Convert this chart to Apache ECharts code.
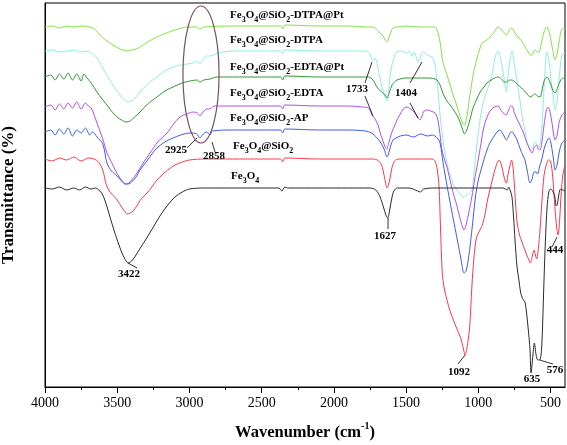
<!DOCTYPE html>
<html><head><meta charset="utf-8">
<script src="https://cdn.jsdelivr.net/npm/echarts@6/dist/echarts.min.js"></script>
<style>html,body{margin:0;padding:0;background:#fff}#c{width:567px;height:445px}</style>
</head><body><div id="c"></div>
<script>
// ---- data: [wavenumber (cm-1), transmittance (arb. units, offset stacked)] ----
const tickLabels = [4000, 3500, 3000, 2500, 2000, 1500, 1000, 500];
const minorTickValues = [3750, 3250, 2750, 2250, 1750, 1250, 750];

const fe3o4 = [[4000,199],[3950,198],[3900,200],[3850,197],[3800,199],[3760,197],[3720,200],[3680,198],[3650,199],[3620,196],[3600,192],[3570,180],[3550,170],[3525,158],[3500,147],[3470,135],[3450,129],[3425,124],[3400,126],[3370,132],[3340,139],[3300,148],[3250,160],[3200,172],[3150,182],[3100,190],[3050,195],[3000,198],[2900,199],[2700,199],[2500,199],[2380,199],[2360,196],[2340,200],[2320,199],[2100,199],[1900,199],[1750,199],[1710,197],[1680,190],[1655,179],[1640,172],[1627,169],[1615,176],[1600,188],[1585,196],[1560,199],[1480,199],[1420,196],[1400,195],[1380,198],[1300,199],[1100,199],[900,199],[830,199],[800,197],[790,200],[778,196],[767,190],[756,170],[746,147],[732,120],[720,108],[708,95],[698,90],[688,87],[677,85],[666,74],[656,60],[648,48],[642,37],[635,14],[622,32],[612,44],[600,32],[588,27],[576,27],[566,32],[558,50],[548,95],[536,145],[524,180],[512,195],[500,198],[485,196],[470,190],[460,181],[452,183],[442,193],[430,198],[415,197],[400,196]];

const fe3o4SiO2 = [[4000,228],[3950,226],[3900,229],[3850,227],[3800,230],[3750,226],[3700,229],[3660,228],[3630,225],[3600,217],[3575,202],[3550,195],[3500,187],[3470,180],[3450,176],[3430,173],[3410,174],[3390,176],[3360,182],[3340,187],[3300,193],[3260,200],[3225,207],[3150,217],[3100,222],[3050,225],[3000,227],[2900,228],[2700,228],[2500,228],[2370,228],[2355,225],[2340,229],[2100,228],[1900,228],[1750,228],[1700,227],[1670,222],[1650,210],[1632,199],[1615,206],[1600,218],[1580,226],[1550,228],[1400,228],[1320,228],[1300,226],[1285,218],[1272,200],[1262,160],[1250,115],[1235,98],[1196,76],[1170,66],[1148,58],[1120,48],[1100,36],[1092,32],[1080,38],[1060,60],[1045,100],[1030,130],[1015,148],[1000,154],[985,158],[970,163],[955,172],[935,188],[915,200],[895,212],[875,222],[857,227],[840,222],[825,212],[812,205],[805,204],[795,212],[780,222],[770,227],[760,220],[745,190],[732,165],[715,152],[698,145],[680,138],[665,132],[650,127],[640,124],[628,130],[614,137],[605,132],[596,128],[585,138],[573,157],[560,185],[545,212],[530,222],[515,227],[500,226],[485,210],[470,180],[458,160],[448,152],[438,165],[428,190],[415,212],[400,222]];

const apSeries = [[4000,255],[3960,257],[3930,252],[3900,258],[3870,253],[3840,259],[3810,251],[3780,257],[3750,254],[3720,259],[3690,252],[3670,255],[3640,250],[3600,243],[3571,224],[3540,216],[3500,211],[3470,206],[3446,203],[3425,203],[3400,205],[3370,210],[3342,217],[3300,225],[3260,233],[3225,239],[3170,245],[3114,249],[3060,252],[2996,254],[2950,253],[2927,249],[2905,253],[2880,255],[2858,252],[2840,256],[2700,257],[2500,257],[2370,257],[2355,254],[2340,258],[2100,257],[1900,257],[1780,256],[1740,254],[1700,249],[1670,243],[1650,237],[1632,230],[1620,234],[1605,242],[1591,247],[1570,249],[1540,251],[1500,252],[1450,250],[1400,253],[1350,251],[1320,252],[1300,251],[1280,248],[1265,244],[1245,225],[1230,212],[1196,185],[1160,158],[1120,128],[1099,114],[1085,116],[1065,132],[1050,150],[1035,170],[1020,190],[1000,207],[980,218],[960,228],[940,237],[920,244],[885,252],[864,256],[850,257],[830,253],[815,249],[806,247],[790,251],[775,255],[765,255],[750,252],[732,247],[710,238],[690,231],[677,227],[660,215],[642,204],[630,207],[614,215],[600,215],[590,213],[575,221],[560,228],[545,238],[525,246],[510,249],[495,242],[480,228],[469,217],[455,222],[440,235],[421,244],[400,247]];

const edtaSeries = [[4000,280],[3960,282],[3930,277],[3900,283],[3870,278],[3840,284],[3810,279],[3780,285],[3750,278],[3720,284],[3700,281],[3680,279],[3660,272],[3640,264],[3600,248],[3571,234],[3540,225],[3510,216],[3481,209],[3460,205],[3439,203],[3420,204],[3400,207],[3363,214],[3320,224],[3273,234],[3220,245],[3155,254],[3110,263],[3065,270],[3017,273],[2975,275],[2945,274],[2927,271],[2905,275],[2880,278],[2858,278],[2830,281],[2700,281],[2500,281],[2370,281],[2355,278],[2340,282],[2100,281],[1900,281],[1800,280],[1760,279],[1736,272],[1715,268],[1695,262],[1675,252],[1660,246],[1645,240],[1635,238],[1620,244],[1605,252],[1590,258],[1577,262],[1560,268],[1540,273],[1520,278],[1494,280],[1470,278],[1445,275],[1420,270],[1404,267],[1390,271],[1375,276],[1355,277],[1330,276],[1300,274],[1285,270],[1270,258],[1255,240],[1240,230],[1217,220],[1185,200],[1148,181],[1120,165],[1099,157],[1085,162],[1065,175],[1045,190],[1025,208],[1000,228],[980,245],[965,258],[945,268],[919,276],[890,280],[864,281],[840,276],[820,273],[808,272],[790,277],[775,281],[767,281],[750,274],[732,268],[712,262],[690,255],[663,244],[645,238],[628,234],[612,240],[598,242],[585,238],[573,237],[560,245],[545,262],[530,276],[518,280],[505,276],[490,264],[478,252],[469,247],[455,252],[440,265],[421,272],[400,275]];

const edtaPtSeries = [[4000,310],[3960,312],[3930,307],[3900,313],[3870,308],[3840,314],[3810,307],[3780,313],[3750,306],[3730,313],[3709,309],[3680,304],[3640,295],[3605,288],[3571,282],[3540,276],[3502,270],[3470,267],[3439,265],[3410,266],[3380,270],[3342,275],[3290,283],[3225,290],[3170,296],[3114,300],[3050,304],[2996,306],[2950,307],[2927,305],[2900,307],[2858,308],[2809,310],[2700,310],[2500,310],[2370,310],[2355,307],[2340,311],[2100,310],[1900,310],[1760,310],[1730,307],[1702,300],[1670,295],[1646,292],[1632,289],[1615,295],[1598,302],[1580,305],[1563,307],[1500,309],[1400,309],[1335,309],[1300,308],[1286,307],[1265,302],[1240,292],[1217,286],[1190,281],[1162,275],[1135,268],[1110,258],[1095,253],[1080,257],[1060,266],[1037,279],[1010,288],[988,295],[960,300],[940,304],[900,308],[864,310],[840,308],[820,305],[802,305],[785,307],[767,307],[745,305],[725,302],[700,299],[680,296],[656,292],[642,290],[628,291],[608,293],[590,291],[573,290],[560,296],[545,306],[525,310],[505,305],[485,297],[469,294],[450,300],[430,307],[414,309],[400,308]];

const dtpaSeries = [[4000,336],[3950,337],[3900,335],[3850,336],[3800,337],[3750,335],[3709,336],[3680,334],[3640,329],[3605,320],[3571,312],[3530,302],[3481,292],[3450,287],[3425,285],[3400,286],[3370,290],[3342,295],[3290,303],[3225,310],[3170,316],[3114,320],[3060,322],[3017,323],[2975,324],[2945,326],[2927,323],[2905,328],[2880,331],[2858,331],[2800,334],[2698,336],[2500,336],[2370,336],[2355,333],[2340,337],[2100,336],[1900,336],[1790,336],[1760,335],[1745,331],[1736,327],[1725,327],[1715,329],[1700,323],[1681,309],[1660,296],[1646,290],[1632,286],[1620,298],[1610,312],[1598,322],[1580,331],[1563,335],[1530,336],[1500,334],[1480,336],[1460,331],[1445,335],[1430,330],[1418,325],[1404,328],[1395,333],[1383,335],[1360,333],[1340,331],[1321,330],[1300,322],[1286,305],[1275,290],[1265,272],[1245,247],[1220,226],[1196,212],[1170,202],[1148,197],[1125,193],[1106,190],[1090,191],[1070,193],[1044,197],[1030,215],[1009,244],[990,265],[974,279],[950,292],[919,305],[900,316],[885,329],[864,336],[845,328],[829,315],[815,302],[806,295],[795,310],[780,328],[767,336],[750,322],[732,305],[715,290],[698,272],[680,258],[663,245],[648,240],[635,237],[622,240],[608,245],[594,243],[580,240],[565,252],[552,280],[540,312],[525,335],[510,325],[495,305],[480,288],[469,277],[455,285],[440,310],[421,332],[400,334]];

const dtpaPtSeries = [[4000,360],[3950,361],[3900,359],[3850,361],[3800,360],[3750,361],[3688,360],[3650,357],[3619,352],[3580,347],[3529,342],[3480,338],[3425,336],[3400,337],[3370,338],[3342,340],[3290,345],[3225,350],[3160,354],[3100,357],[3050,359],[3017,360],[2950,360],[2927,358],[2900,360],[2700,361],[2500,361],[2370,361],[2355,358],[2340,362],[2100,361],[1900,361],[1760,360],[1729,360],[1700,357],[1680,354],[1660,351],[1645,347],[1632,345],[1620,349],[1605,355],[1590,359],[1560,360],[1500,361],[1400,360],[1300,360],[1286,357],[1275,352],[1265,345],[1245,325],[1217,312],[1195,302],[1175,292],[1150,282],[1125,270],[1105,263],[1095,262],[1080,270],[1058,292],[1035,313],[1009,329],[990,338],[974,344],[940,347],[919,350],[890,355],[864,360],[845,358],[820,354],[805,352],[790,356],[770,359],[750,355],[725,350],[700,346],[675,340],[656,335],[640,332],[628,332],[615,336],[605,337],[592,335],[580,335],[565,343],[545,355],[525,360],[505,352],[485,337],[469,327],[455,333],[440,346],[420,358],[400,358]];

// sample names (rich-text subscripts) and their anchor in data coords
const sampleNames = [
  '{m|Fe}{s|3}{m|O}{s|4}{m|@SiO}{s|2}{m|-DTPA@Pt}',
  '{m|Fe}{s|3}{m|O}{s|4}{m|@SiO}{s|2}{m|-DTPA}',
  '{m|Fe}{s|3}{m|O}{s|4}{m|@SiO}{s|2}{m|-EDTA@Pt}',
  '{m|Fe}{s|3}{m|O}{s|4}{m|@SiO}{s|2}{m|-EDTA}',
  '{m|Fe}{s|3}{m|O}{s|4}{m|@SiO}{s|2}{m|-AP}',
  '{m|Fe}{s|3}{m|O}{s|4}{m|@SiO}{s|2}',
  '{m|Fe}{s|3}{m|O}{s|4}'
];
const sampleNameAt = [[2719,372],[2719,347],[2719,320],[2719,294],[2719,269],[2698,241],[2712,211]];

const peakTexts = ['3422','1627','1092','635','576','444','2925','2858','1733','1404'];
const peakTextAt = [[3418,113],[1646,151],[1134,15],[628,8],[469,17],[469,137],[3093,237],[2830,231],[1840,298],[1501,294]];
const leaderLines = [
  [[3425,124],[3363,119]], [[1625,169],[1625,158]], [[1092,32],[1141,23]],
  [[576,27],[483,23]], [[490,140],[455,150]], [[3017,239],[2948,249]],
  [[2844,245],[2823,235]], [[1736,325],[1785,304]], [[1785,291],[1729,271]],
  [[1390,325],[1473,304]], [[1473,284],[1418,269]]
];
const ellipseBox = [[3045,381],[2795,244]];

const seriesData = [dtpaPtSeries, dtpaSeries, edtaPtSeries, edtaSeries, apSeries, fe3o4SiO2, fe3o4];
const seriesColors = ['#82e342','#86f3dc','#2f9a35','#b24ef2','#3e5cf5','#fb3a4c','#2b2b2b'];

const serif = "'Liberation Serif','Times New Roman',serif";
const chart = echarts.init(document.getElementById('c'), null, {renderer:'canvas'});

chart.setOption({
  animation: false,
  backgroundColor: '#fff',
  grid: {left:45, right:2, top:3, bottom:58, show:true, borderColor:'#000', borderWidth:1,
         containLabel:false, outerBoundsMode:'none'},
  xAxis: [{
    type:'value', inverse:true, min:400, max:4000,
    axisLine:{show:true, onZero:false, lineStyle:{color:'#000', width:1}},
    axisTick:{show:true, inside:false, length:6, customValues: tickLabels, lineStyle:{color:'#000'}},
    axisLabel:{customValues: tickLabels, formatter: v => String(v), fontFamily: serif, fontSize:14, color:'#000', margin:9},
    splitLine:{show:false},
    name:'{a|Wavenumber (cm}{b|-1}{a|)}', nameLocation:'middle', nameGap:34,
    nameTextStyle:{rich:{
      a:{fontFamily:serif, fontWeight:'bold', fontSize:16.5, color:'#000', lineHeight:20, verticalAlign:'bottom'},
      b:{fontFamily:serif, fontWeight:'bold', fontSize:10, color:'#000', lineHeight:10, verticalAlign:'top'}
    }}
  },{
    type:'value', inverse:true, min:400, max:4000, position:'bottom',
    axisLine:{show:false},
    axisTick:{show:true, inside:false, length:3, customValues: minorTickValues, lineStyle:{color:'#000'}},
    axisLabel:{show:false}, splitLine:{show:false}
  }],
  yAxis: {
    type:'value', min:0, max:384,
    axisLine:{show:true, lineStyle:{color:'#000', width:1}},
    axisTick:{show:false}, axisLabel:{show:false}, splitLine:{show:false},
    name:'Transmittance (%)', nameLocation:'middle', nameGap:28,
    nameTextStyle:{fontFamily:serif, fontWeight:'bold', fontSize:17, color:'#000'}
  },
  series: seriesData.map((d, i) => ({
    type:'line', data:d, symbol:'none', showSymbol:false, smooth:0.3,
    lineStyle:{width:1, color:seriesColors[i]}, itemStyle:{color:seriesColors[i]},
    z: 2 + i, silent:true
  }))
});

const px = p => chart.convertToPixel({xAxisIndex:0, yAxisIndex:0}, p);
const graphics = [];
const subRich = {
  m:{fontFamily:serif, fontWeight:'bold', fontSize:11, lineHeight:14, verticalAlign:'top', fill:'#000'},
  s:{fontFamily:serif, fontWeight:'bold', fontSize:8, lineHeight:14, verticalAlign:'bottom', fill:'#000'}
};
sampleNames.forEach((t, i) => {
  const p = px(sampleNameAt[i]);
  graphics.push({type:'text', x:p[0], y:p[1]-5.5, silent:true, z:50, style:{
    text:t, rich:subRich, fill:'#000', align:'left', verticalAlign:'top',
    textAlign:'left', textVerticalAlign:'top'
  }});
});
peakTexts.forEach((t, i) => {
  const p = px(peakTextAt[i]);
  graphics.push({type:'text', x:p[0], y:p[1], silent:true, z:50, style:{
    text:t, fill:'#000', font:"bold 11px " + serif, align:'center', verticalAlign:'middle',
    textAlign:'center', textVerticalAlign:'middle'
  }});
});
leaderLines.forEach(l => {
  const a = px(l[0]), b = px(l[1]);
  graphics.push({type:'line', silent:true, z:50, shape:{x1:a[0], y1:a[1], x2:b[0], y2:b[1]},
    style:{stroke:'#000', lineWidth:0.8}});
});
const e1 = px(ellipseBox[0]), e2 = px(ellipseBox[1]);
graphics.push({type:'ellipse', silent:true, z:50, shape:{
  cx:(e1[0]+e2[0])/2, cy:(e1[1]+e2[1])/2, rx:Math.abs(e2[0]-e1[0])/2, ry:Math.abs(e2[1]-e1[1])/2},
  style:{fill:'none', stroke:'#7a4e5e', lineWidth:1.2}});
chart.setOption({graphic: graphics});
</script></body></html>
